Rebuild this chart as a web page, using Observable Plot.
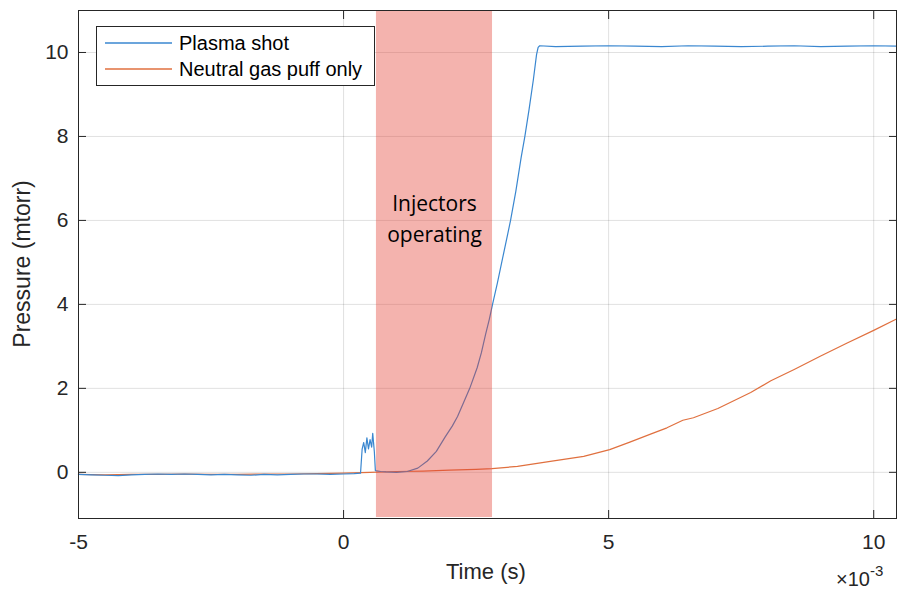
<!DOCTYPE html>
<html>
<head>
<meta charset="utf-8">
<script src="https://cdn.jsdelivr.net/npm/d3@7"></script>
<script src="https://cdn.jsdelivr.net/npm/@observablehq/plot@0.6"></script>
<style>
  html, body { margin: 0; padding: 0; background: #fff; }
  #wrap { position: relative; width: 897px; height: 589px; font-family: "Liberation Sans", Arial, sans-serif; }
  #legend { position: absolute; left: 96px; top: 26px; width: 279px; height: 60px; border: 1px solid #262626; background: #fff; box-sizing: border-box; }
  .lg-row { position: absolute; left: 0; height: 22px; display: flex; align-items: center; font-size: 20px; color: #000; white-space: nowrap; }
  .lg-row svg { margin-left: 8px; margin-right: 7px; }
  #xlabel { position: absolute; left: 446px; top: 559px; font-size: 22px; color: #262626; }
  #ylabel { position: absolute; left: 22px; top: 264px; font-size: 23px; color: #262626; white-space: nowrap; transform: translate(-50%, -50%) rotate(-90deg); }
  #xexp { position: absolute; left: 836px; top: 564px; font-size: 20px; color: #262626; white-space: nowrap; }
  #xexp sup { font-size: 15px; position: relative; top: -2px; }
</style>
</head>
<body>
<div id="wrap"></div>
<script>
// ---- data (time in ms, pressure in mtorr) ----
const seriesNames = ["Plasma shot", "Neutral gas puff only"];
const seriesColors = ["#3a87d0", "#e0703f"];

const plasmaT = [-5.0,-4.75,-4.5,-4.25,-4.0,-3.75,-3.5,-3.25,-3.0,-2.75,-2.5,-2.25,-2.0,-1.75,-1.5,-1.25,-1.0,-0.75,-0.5,-0.25,0.0,0.2,0.32,
  0.35,0.38,0.41,0.44,0.47,0.5,0.53,0.55,0.58,0.6,0.7,0.8,1.0,1.2,1.4,1.58,1.75,1.92,2.05,2.15,2.25,2.38,2.52,2.6,2.68,2.75,2.81,2.9,3.0,3.1,3.15,3.25,3.35,3.42,3.5,3.58,3.64,3.67,3.7,
  4.0,4.5,5.0,5.5,6.0,6.5,7.0,7.5,8.0,8.5,9.0,9.5,10.0,10.43];
const plasmaP = [-0.05,-0.06,-0.07,-0.08,-0.06,-0.05,-0.04,-0.05,-0.04,-0.05,-0.06,-0.05,-0.06,-0.07,-0.05,-0.06,-0.05,-0.04,-0.04,-0.05,-0.04,-0.03,-0.02,
  0.55,0.71,0.47,0.82,0.56,0.78,0.6,0.93,0.5,0.04,0.02,0.01,0.0,0.02,0.1,0.27,0.5,0.85,1.1,1.33,1.62,2.0,2.49,2.85,3.29,3.65,4.0,4.5,5.1,5.7,6.0,6.7,7.5,8.0,8.65,9.35,9.95,10.12,10.16,
  10.14,10.15,10.16,10.15,10.14,10.16,10.15,10.14,10.15,10.16,10.14,10.15,10.16,10.15];

const gasT = [-5.0,-4.5,-4.0,-3.5,-3.0,-2.5,-2.0,-1.5,-1.0,-0.5,0.0,0.5,1.0,1.5,2.0,2.5,2.8,3.28,3.9,4.53,5.02,5.4,5.79,6.1,6.4,6.5,6.6,7.06,7.68,8.06,8.5,9.0,9.5,10.0,10.43];
const gasP = [-0.05,-0.06,-0.05,-0.05,-0.04,-0.05,-0.05,-0.04,-0.04,-0.03,-0.02,0.0,0.02,0.03,0.05,0.07,0.09,0.14,0.26,0.38,0.54,0.72,0.91,1.06,1.24,1.27,1.3,1.52,1.9,2.18,2.45,2.77,3.08,3.38,3.65];

const shadeStart = 0.62, shadeEnd = 2.81;
const shadeLabel = "Injectors\noperating";

const xTicks = [-5, 0, 5, 10];
const yTicks = [0, 2, 4, 6, 8, 10];
const xDomain = [-5, 10.43];
const yDomain = [-1.1, 11];

// ---- build tables ----
const plasma = plasmaT.map((t, i) => ({t, p: plasmaP[i], s: seriesNames[0]}));
const gas = gasT.map((t, i) => ({t, p: gasP[i], s: seriesNames[1]}));
const shade = [{x1: shadeStart, x2: shadeEnd}];
const fmt = d => String(d);

const chart = Plot.plot({
  width: 897,
  height: 589,
  marginLeft: 78,
  marginRight: 1,
  marginTop: 10,
  marginBottom: 71,
  style: {fontFamily: "'Liberation Sans', Arial, sans-serif", color: "#262626", background: "#fff"},
  x: {domain: xDomain},
  y: {domain: yDomain},
  marks: [
    Plot.gridX(xTicks, {stroke: "#000", strokeOpacity: 0.12}),
    Plot.gridY(yTicks, {stroke: "#000", strokeOpacity: 0.12}),
    Plot.line(gas, {x: "t", y: "p", stroke: seriesColors[1], strokeWidth: 1.2}),
    Plot.line(plasma, {x: "t", y: "p", stroke: seriesColors[0], strokeWidth: 1.2}),
    Plot.rectX(shade, {x1: "x1", x2: "x2", fill: "#e34135", fillOpacity: 0.4, insetBottom: 1}),
    Plot.text([shadeLabel], {x: (shadeStart + shadeEnd) / 2, y: 6.1, text: d => d, fontSize: 21, fill: "#000", lineHeight: 1.48, fontFamily: "'Open Sans', sans-serif"}),
    Plot.frame({stroke: "#262626"}),
    Plot.axisX(xTicks, {anchor: "bottom", tickSize: 0, tickPadding: 16, fontSize: 21, tickFormat: fmt, label: null}),
    Plot.axisX(xTicks, {anchor: "bottom", tickSize: -8, text: null, label: null}),
    Plot.axisX(xTicks, {anchor: "top", tickSize: -8, text: null, label: null}),
    Plot.axisY(yTicks, {anchor: "left", tickSize: 0, tickPadding: 10, fontSize: 21, tickFormat: fmt, label: null}),
    Plot.axisY(yTicks, {anchor: "left", tickSize: -8, text: null, label: null}),
    Plot.axisY(yTicks, {anchor: "right", tickSize: -8, text: null, label: null})
  ]
});

const wrap = document.getElementById("wrap");
wrap.appendChild(chart);

const legend = document.createElement("div");
legend.id = "legend";
seriesNames.forEach((name, i) => {
  const row = document.createElement("div");
  row.className = "lg-row";
  row.style.top = (5 + i * 26) + "px";
  const ns = "http://www.w3.org/2000/svg";
  const sw = document.createElementNS(ns, "svg");
  sw.setAttribute("width", "67");
  sw.setAttribute("height", "6");
  const ln = document.createElementNS(ns, "line");
  ln.setAttribute("x1", "0"); ln.setAttribute("x2", "67");
  ln.setAttribute("y1", "3"); ln.setAttribute("y2", "3");
  ln.setAttribute("stroke", seriesColors[i]);
  ln.setAttribute("stroke-width", "1.3");
  sw.appendChild(ln);
  row.appendChild(sw);
  row.appendChild(document.createTextNode(name));
  legend.appendChild(row);
});
wrap.appendChild(legend);

const yl = document.createElement("div");
yl.id = "ylabel";
yl.textContent = "Pressure (mtorr)";
wrap.appendChild(yl);

const xl = document.createElement("div");
xl.id = "xlabel";
xl.textContent = "Time (s)";
wrap.appendChild(xl);

const xe = document.createElement("div");
xe.id = "xexp";
xe.innerHTML = "×10<sup>-3</sup>";
wrap.appendChild(xe);
</script>
</body>
</html>
